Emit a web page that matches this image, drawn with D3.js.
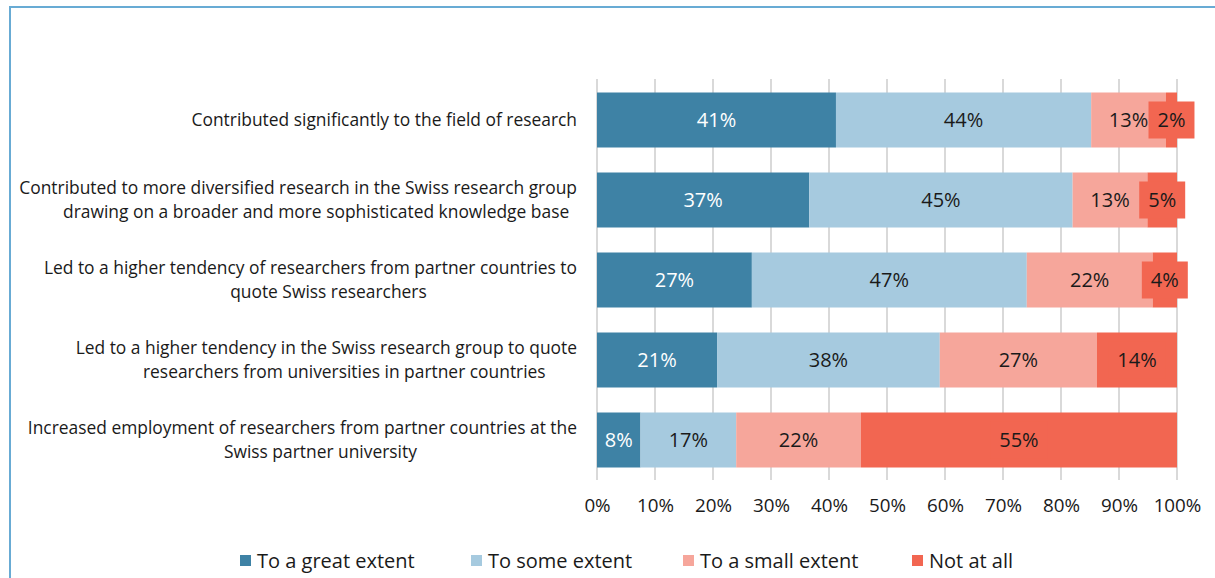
<!DOCTYPE html>
<html>
<head>
<meta charset="utf-8">
<script src="https://cdn.jsdelivr.net/npm/d3@7"></script>
<style>
  body { margin: 0; background: #fff; }
  svg text { font-family: "Open Sans", "Noto Sans", sans-serif; }
</style>
</head>
<body>
<svg id="chart"></svg>
<script>
// Category labels (already wrapped the way the chart shows them)
const categories = [
  ["Contributed significantly to the field of research"],
  ["Contributed to more diversified research in the Swiss research group",
   "drawing on a broader and more sophisticated knowledge base"],
  ["Led to a higher tendency of researchers from partner countries to",
   "quote Swiss researchers"],
  ["Led to a higher tendency in the Swiss research group to quote",
   "researchers from universities in partner countries"],
  ["Increased employment of researchers from partner countries at the",
   "Swiss partner university"],
];

const seriesNames = ["To a great extent", "To some extent", "To a small extent", "Not at all"];
const greatExtent = [41.2, 36.6, 26.7, 20.7, 7.5];
const someExtent = [44.0, 45.4, 47.4, 38.4, 16.5];
const smallExtent = [12.9, 12.9, 21.7, 27.1, 21.5];
const notAtAll = [1.9, 5.1, 4.2, 13.8, 54.5];
const tickValues = [0, 10, 20, 30, 40, 50, 60, 70, 80, 90, 100];

const colors = ["#3e82a5", "#a6cadf", "#f6a69b", "#f26651"];
const labelColors = ["#ffffff", "#1a1a1a", "#1a1a1a", "#1a1a1a"];

const width = 1215;
const height = 578;

const svg = d3.select("#chart").attr("width", width).attr("height", height);

// frame of the figure box (only top and left edges are in view)
svg.append("path")
  .attr("d", `M10,578 V7 H1215`)
  .attr("fill", "none")
  .attr("stroke", "#68abd4")
  .attr("stroke-width", 2);

const keys = ["great", "some", "small", "none"];
const rows = categories.map((c, i) => ({
  idx: i,
  great: greatExtent[i],
  some: someExtent[i],
  small: smallExtent[i],
  none: notAtAll[i],
}));

const stacked = d3.stack().keys(keys)(rows);

const x = d3.scaleLinear().domain([0, 100]).range([597, 1177]);
const y = d3.scaleBand()
  .domain(d3.range(categories.length))
  .range([80, 480])
  .paddingInner(0.3125)
  .paddingOuter(0.15625);

// gridlines
svg.append("g")
  .selectAll("line")
  .data(tickValues)
  .enter()
  .append("line")
  .attr("x1", (d) => x(d))
  .attr("x2", (d) => x(d))
  .attr("y1", 79)
  .attr("y2", 480)
  .attr("stroke", "#d9d9d9")
  .attr("stroke-width", 2);

// x axis labels
const xAxis = d3.axisBottom(x)
  .tickValues(tickValues)
  .tickFormat((d) => d + "%")
  .tickSize(0)
  .tickPadding(0);

const axisG = svg.append("g")
  .attr("transform", "translate(0,499)")
  .call(xAxis);
axisG.select(".domain").remove();
axisG.selectAll("text")
  .attr("font-size", 18.8)
  .attr("fill", "#1a1a1a")
  .attr("font-family", "Open Sans, sans-serif");

// bars
const layers = svg.append("g")
  .selectAll("g")
  .data(stacked)
  .enter()
  .append("g")
  .attr("fill", (d, i) => colors[i]);

layers.selectAll("rect")
  .data((d) => d)
  .enter()
  .append("rect")
  .attr("x", (d) => x(d[0]))
  .attr("width", (d) => x(d[1]) - x(d[0]))
  .attr("y", (d) => y(d.data.idx))
  .attr("height", y.bandwidth());

// data labels
const labelSize = 20;
stacked.forEach((layer, li) => {
  const g = svg.append("g");
  layer.forEach((d) => {
    const cx = (x(d[0]) + x(d[1])) / 2;
    const cy = y(d.data.idx) + y.bandwidth() / 2;
    const label = Math.round(d[1] - d[0]) + "%";
    if (li === 3) {
      // the last series has a filled label box
      const t = g.append("text")
        .attr("font-size", labelSize)
        .text(label);
      const w = t.node().getComputedTextLength();
      t.remove();
      g.append("rect")
        .attr("x", cx - w / 2 - 9)
        .attr("y", cy - 18.5)
        .attr("width", w + 18)
        .attr("height", 37)
        .attr("fill", colors[3]);
    }
    g.append("text")
      .attr("x", cx).attr("y", cy)
      .attr("font-size", labelSize)
      .attr("text-anchor", "middle")
      .attr("dy", "0.35em")
      .attr("fill", labelColors[li])
      .text(label);
  });
});

// category labels
const catSize = 17.4;
const catG = svg.append("g");
categories.forEach((lines, i) => {
  const cy = y(i) + y.bandwidth() / 2;
  const lineH = 24;
  const top = cy - (lines.length - 1) * lineH / 2;
  const first = catG.append("text")
    .attr("x", 577)
    .attr("y", top)
    .attr("dy", "0.35em")
    .attr("text-anchor", "end")
    .attr("font-size", catSize)
    .attr("fill", "#1a1a1a")
    .text(lines[0]);
  if (lines.length > 1) {
    const w1 = first.node().getComputedTextLength();
    catG.append("text")
      .attr("x", 577 - w1 / 2 + 18)
      .attr("y", top + lineH)
      .attr("dy", "0.35em")
      .attr("text-anchor", "middle")
      .attr("font-size", catSize)
      .attr("fill", "#1a1a1a")
      .text(lines[1]);
  }
});

// legend
const legendX = [240, 471, 683, 912];
const legend = svg.append("g")
  .selectAll("g")
  .data(seriesNames)
  .enter()
  .append("g")
  .attr("transform", (d, i) => `translate(${legendX[i]},561)`);

legend.append("rect")
  .attr("x", 0)
  .attr("y", -6)
  .attr("width", 11)
  .attr("height", 11)
  .attr("fill", (d, i) => colors[i]);

legend.append("text")
  .attr("x", 17)
  .attr("y", 0)
  .attr("dy", "0.35em")
  .attr("font-size", 20)
  .attr("fill", "#1a1a1a")
  .text((d) => d);
</script>
</body>
</html>
